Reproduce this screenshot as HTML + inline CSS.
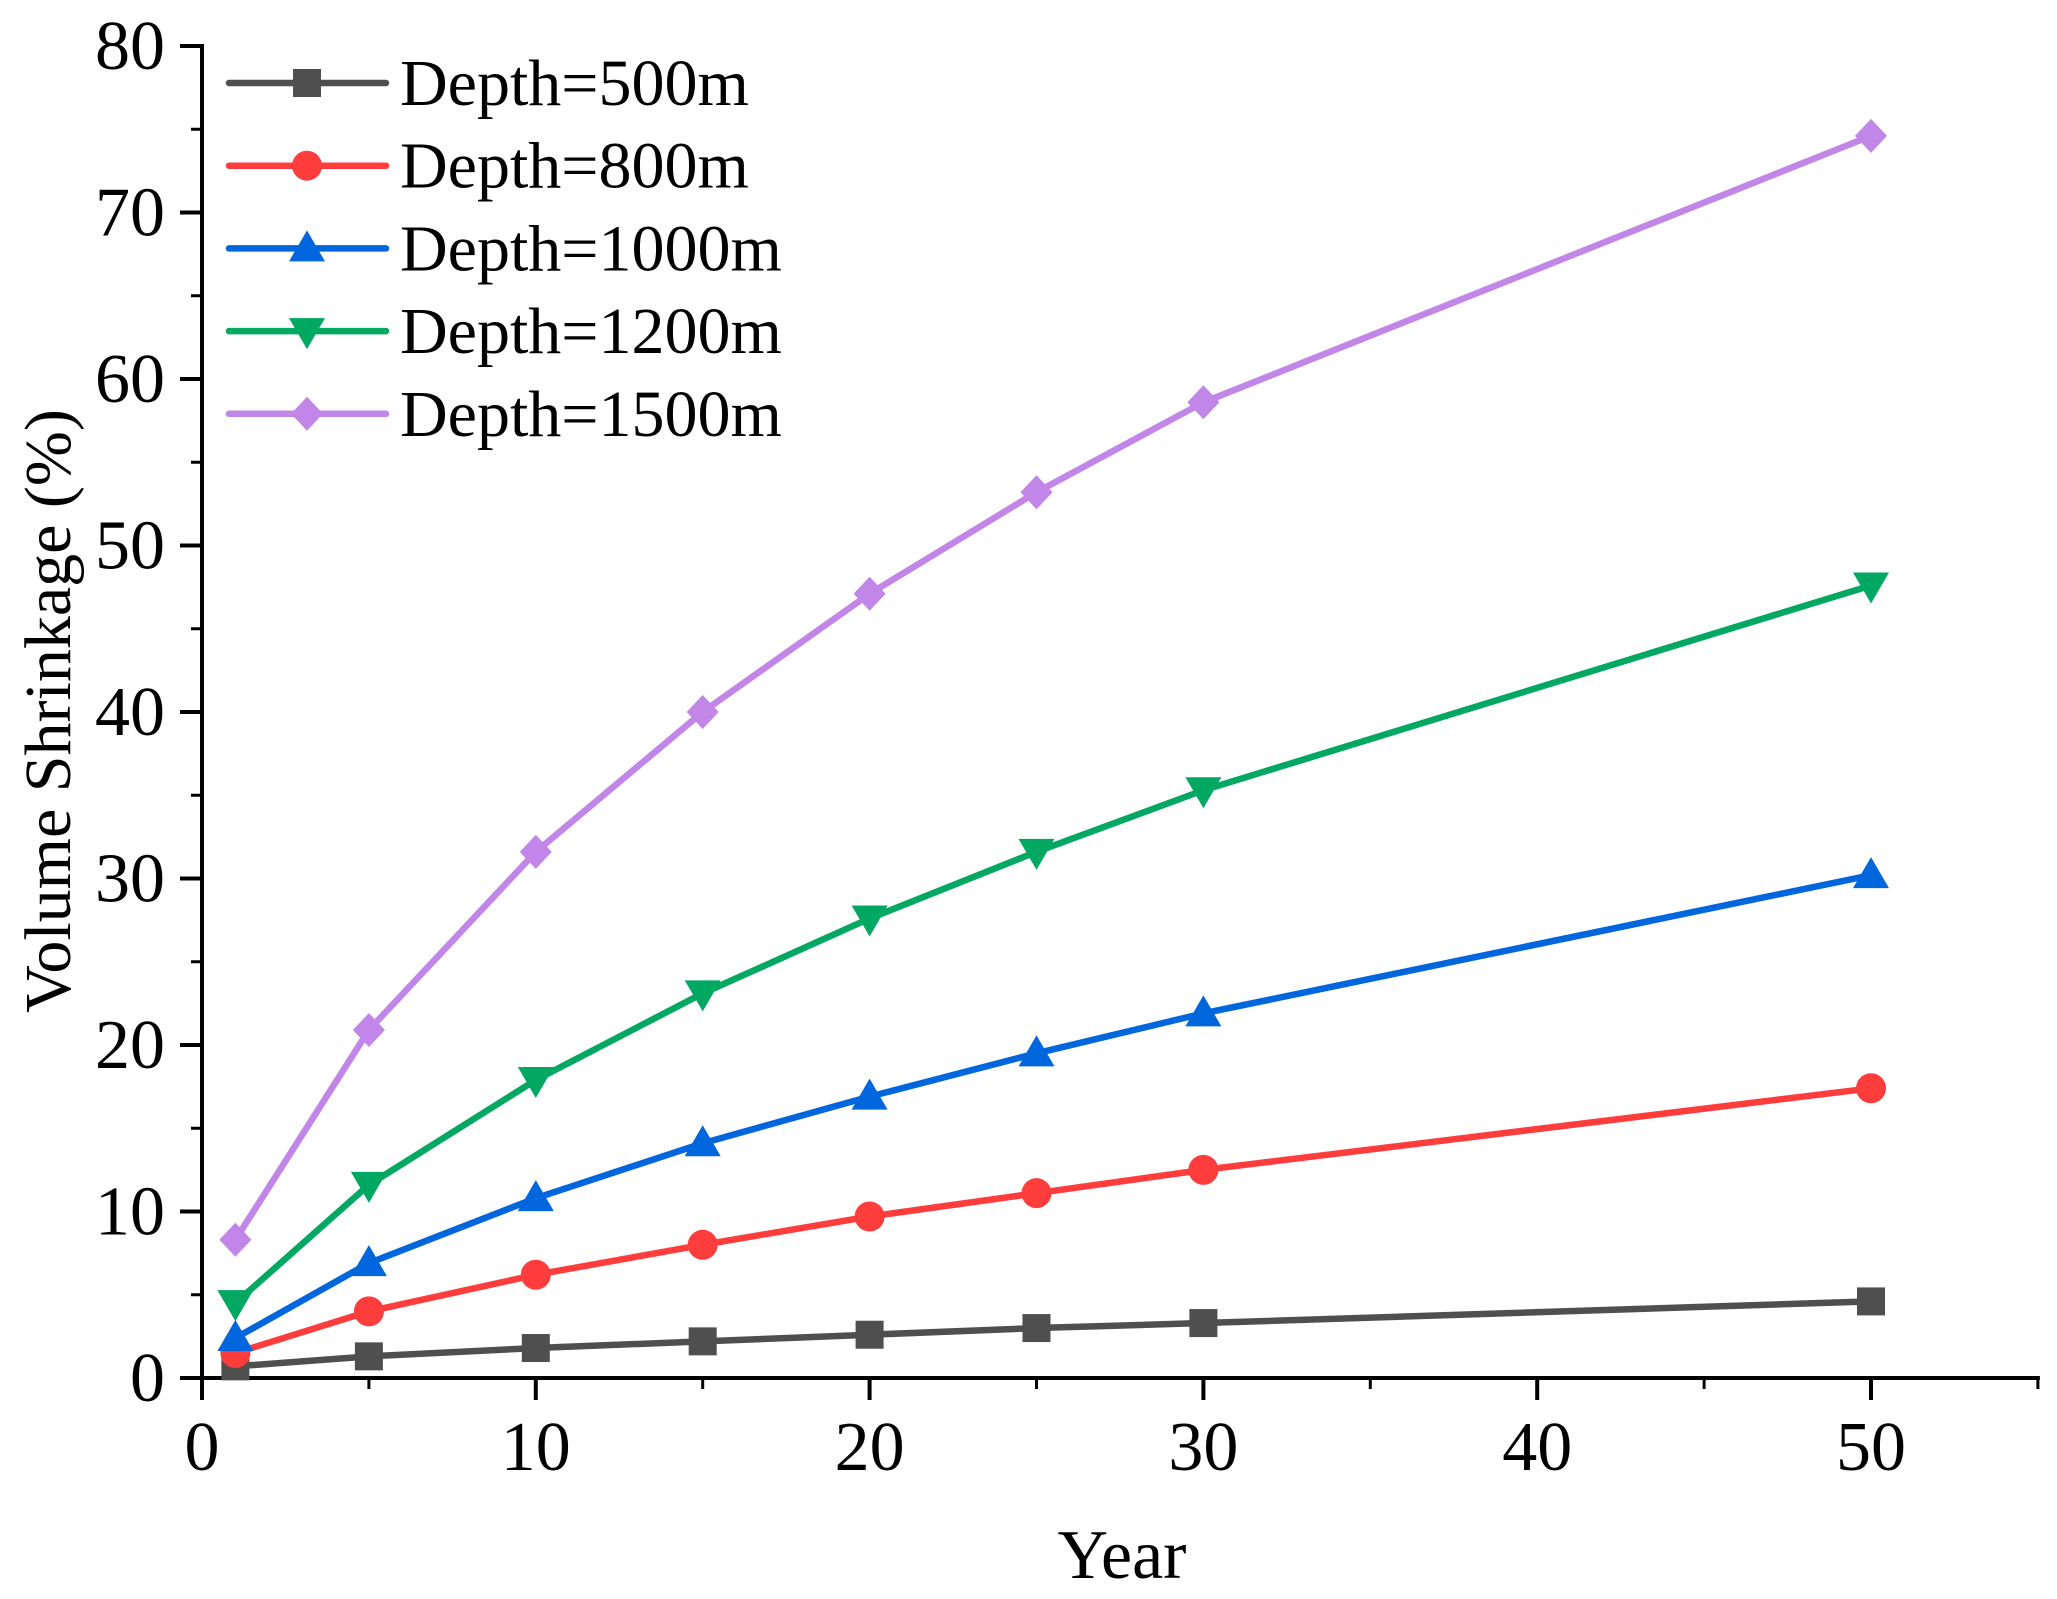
<!DOCTYPE html>
<html><head><meta charset="utf-8"><style>
html,body{margin:0;padding:0;background:#fff}
svg{display:block}
text{font-family:"Liberation Serif",serif;fill:#000}
</style></head><body>
<svg id="chart" width="2057" height="1599" viewBox="0 0 2057 1599" xmlns="http://www.w3.org/2000/svg">
<g id="axes"></g>
<g id="series"></g>
<g id="legend"></g>
<text x="0" y="0" font-size="66" text-anchor="middle" transform="translate(70,711) rotate(-90)">Volume Shrinkage (%)</text>
<text x="1122" y="1578" font-size="70" text-anchor="middle">Year</text>
</svg>
<script>
const years = [1,5,10,15,20,25,30,50];
const seriesNames = ["Depth=500m","Depth=800m","Depth=1000m","Depth=1200m","Depth=1500m"];
const d500 = [0.7,1.3,1.8,2.2,2.6,3.0,3.3,4.6];
const d800 = [1.5,4.0,6.2,8.0,9.7,11.1,12.5,17.4];
const d1000 = [2.4,6.9,10.8,14.1,16.9,19.5,21.9,30.2];
const d1200 = [4.5,11.6,17.9,23.1,27.6,31.6,35.3,47.6];
const d1500 = [8.3,20.9,31.6,40.0,47.1,53.2,58.6,74.6];
const xTicks = [0,10,20,30,40,50];
const yTicks = [0,10,20,30,40,50,60,70,80];

const NS="http://www.w3.org/2000/svg";
const X0=202, XS=33.38, Y0=1378, YS=16.65;
const sx=v=>X0+v*XS, sy=v=>Y0-v*YS;
function mk(t,a,p){const e=document.createElementNS(NS,t);for(const k in a)e.setAttribute(k,a[k]);p.appendChild(e);return e;}
const axes=document.getElementById('axes');
let e;
e=mk('line',{x1:X0,y1:sy(80)-2,x2:X0,y2:Y0+2,stroke:'#000','stroke-width':4},axes);


e=mk('line',{x1:X0-2,y1:Y0,x2:sx(55)+2,y2:Y0,stroke:'#000','stroke-width':4},axes);


for(let v=0;v<=80;v+=5){const maj=v%10===0;
 e=mk('line',{x1:X0-(maj?22:11),y1:sy(v),x2:X0,y2:sy(v),stroke:'#000','stroke-width':maj?4:3},axes);
 
 }
yTicks.forEach(v=>{e=mk('text',{x:165,y:sy(v)+23,'font-size':70,'text-anchor':'end'},axes);e.textContent=v;
 
 });
for(let v=0;v<=55;v+=5){const maj=v%10===0;
 e=mk('line',{x1:sx(v),y1:Y0,x2:sx(v),y2:Y0+(maj?22:11),stroke:'#000','stroke-width':maj?4:3},axes);
 
 }
xTicks.forEach(v=>{e=mk('text',{x:sx(v),y:1470,'font-size':70,'text-anchor':'middle'},axes);e.textContent=v;
 
 });

const colors=['#4f4f4f','#ff3d3d','#0066dd','#00a862','#c285e8'];
const shapes=['square','circle','up','down','diamond'];
const data=[d500,d800,d1000,d1200,d1500];
function marker(shape,x,y,c,p){
 const s=14;
 if(shape==='square')return mk('rect',{x:x-s,y:y-s,width:2*s,height:2*s,fill:c},p);
 if(shape==='circle')return mk('circle',{cx:x,cy:y,r:s+1,fill:c},p);
 if(shape==='up')return mk('polygon',{points:`${x},${y-s-4} ${x+s+4},${y+s-1} ${x-s-4},${y+s-1}`,fill:c},p);
 if(shape==='down')return mk('polygon',{points:`${x},${y+s+4} ${x+s+4},${y-s+1} ${x-s-4},${y-s+1}`,fill:c},p);
 return mk('polygon',{points:`${x},${y-s-3} ${x+s+2},${y} ${x},${y+s+3} ${x-s-2},${y}`,fill:c},p);
}
const sg=document.getElementById('series');
data.forEach((vals,i)=>{
 const g=mk('g',{},sg);
 
 
 const pl=mk('polyline',{points:vals.map((v,j)=>sx(years[j])+','+sy(v)).join(' '),fill:'none',stroke:colors[i],'stroke-width':6.5,'stroke-linejoin':'round'},g);
 
 
 vals.forEach((v,j)=>{const m=marker(shapes[i],sx(years[j]),sy(v),colors[i],g);
  
  });
});
const lg=document.getElementById('legend');
seriesNames.forEach((n,i)=>{
 const y=83+i*82.7;
 const g=mk('g',{},lg);
 
 
 mk('line',{x1:229,y1:y,x2:386,y2:y,stroke:colors[i],'stroke-width':6.5,'stroke-linecap':'round'},g);
 marker(shapes[i],307,y,colors[i],g);
 const t=mk('text',{x:400,y:y+22,'font-size':66},g);t.textContent=n;
});
</script>
</body></html>
